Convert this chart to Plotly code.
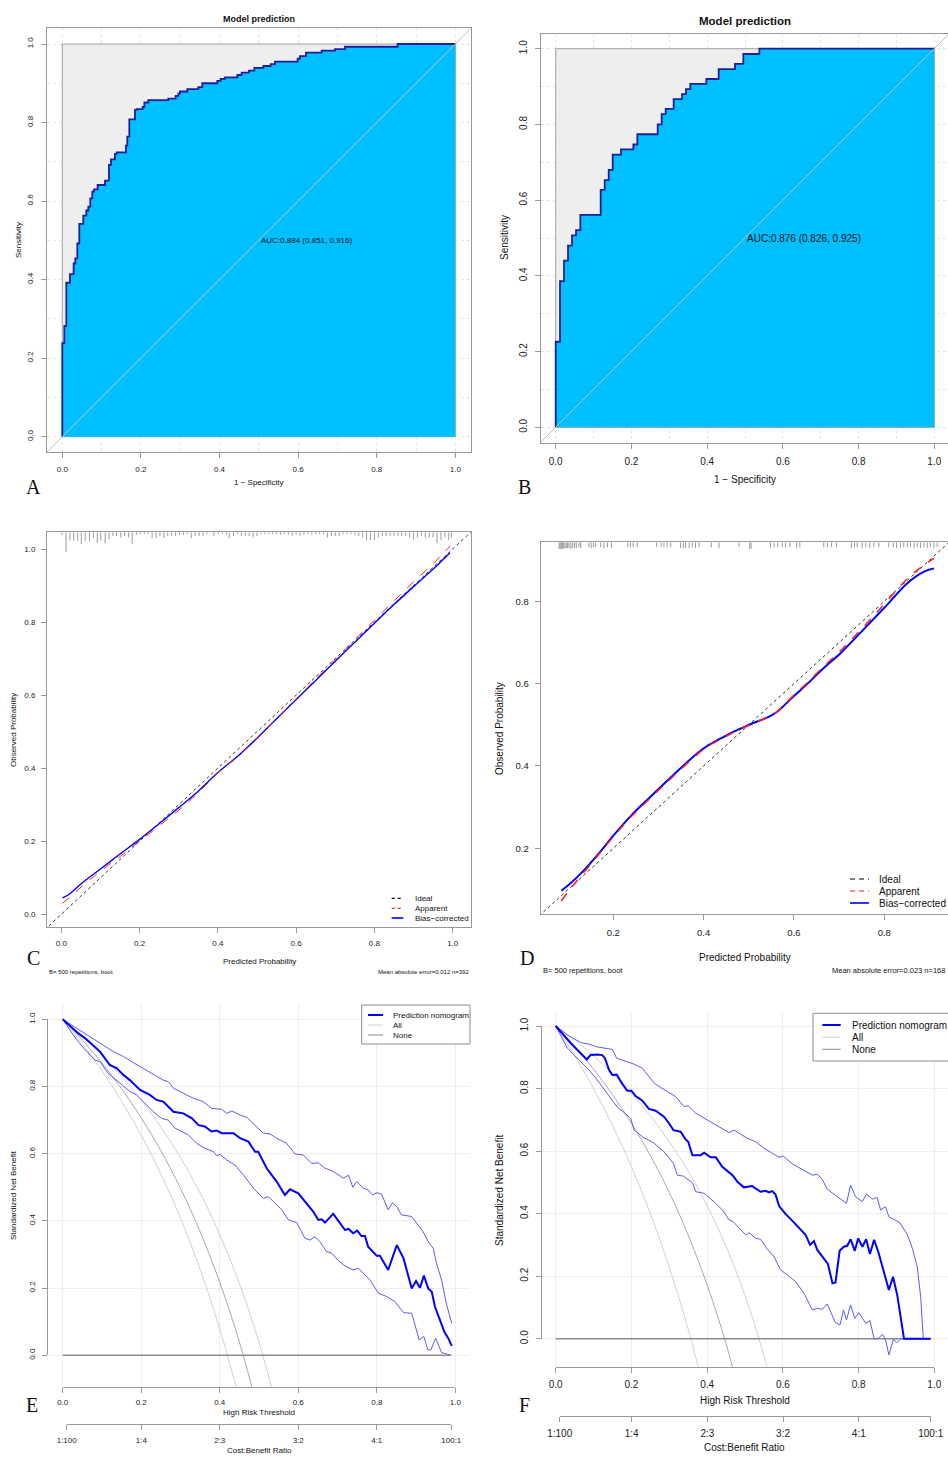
import plotly.graph_objects as go

W, H = 948, 1458
FONT = "Liberation Sans, Arial, Helvetica, sans-serif"
SERIF = "Liberation Serif, Times New Roman, serif"

# ---------------- DATA ----------------
# ROC A (step points: jump happens at fpr[i] up to tpr[i])
roc_a_fpr = [0, 0, 0.0051, 0.0102, 0.0195, 0.0288, 0.0331, 0.0382, 0.0433, 0.0534, 0.0611, 0.0662,
             0.0712, 0.0763, 0.0806, 0.0899, 0.1086, 0.1187, 0.1238, 0.134, 0.1383, 0.162, 0.1654,
             0.1705, 0.1849, 0.1891, 0.2044, 0.2087, 0.2188, 0.2697, 0.2884, 0.2952, 0.2994, 0.3181,
             0.3461, 0.3562, 0.3944, 0.4029, 0.4139, 0.4453, 0.4563, 0.475, 0.4886, 0.5115, 0.5301,
             0.5411, 0.5988, 0.6047, 0.62, 0.6599, 0.6938, 0.7193, 0.8533, 1.0]
roc_a_tpr = [0, 0.238, 0.282, 0.392, 0.414, 0.441, 0.454, 0.492, 0.542, 0.563, 0.576, 0.586, 0.607,
             0.624, 0.630, 0.641, 0.652, 0.692, 0.706, 0.720, 0.724, 0.741, 0.764, 0.808, 0.832,
             0.834, 0.840, 0.851, 0.857, 0.861, 0.868, 0.874, 0.879, 0.885, 0.890, 0.900, 0.906,
             0.911, 0.915, 0.921, 0.927, 0.932, 0.939, 0.944, 0.949, 0.955, 0.963, 0.969, 0.978,
             0.983, 0.987, 0.993, 1.0, 1.0]
auc_a = "AUC:0.884 (0.851, 0.916)"

roc_b_fpr = [0, 0, 0.0114, 0.022, 0.0326, 0.0431, 0.0537, 0.0651, 0.1188, 0.1294, 0.14, 0.1505,
             0.1725, 0.2051, 0.2157, 0.2694, 0.2799, 0.2905, 0.3116, 0.3336, 0.3442, 0.3556,
             0.3979, 0.4305, 0.4736, 0.4956, 0.5379, 1.0]
roc_b_tpr = [0, 0.226, 0.386, 0.440, 0.480, 0.507, 0.521, 0.561, 0.627, 0.653, 0.680, 0.720, 0.734,
             0.747, 0.774, 0.800, 0.827, 0.841, 0.867, 0.880, 0.893, 0.907, 0.920, 0.946, 0.960,
             0.986, 1.0, 1.0]
auc_b = "AUC:0.876 (0.826, 0.925)"

# Calibration C
cal_c_x = [0.003, 0.02, 0.05, 0.1, 0.15, 0.2, 0.25, 0.3, 0.35, 0.4, 0.45, 0.5, 0.55, 0.6, 0.65,
           0.7, 0.75, 0.8, 0.85, 0.9, 0.95, 0.993]
cal_c_bias = [0.045, 0.055, 0.083, 0.124, 0.165, 0.205, 0.248, 0.292, 0.337, 0.388, 0.432, 0.482,
              0.535, 0.588, 0.64, 0.693, 0.745, 0.797, 0.848, 0.897, 0.945, 0.99]
cal_c_app = [0.03, 0.045, 0.074, 0.118, 0.158, 0.2, 0.242, 0.285, 0.333, 0.387, 0.431, 0.481,
             0.535, 0.59, 0.644, 0.698, 0.752, 0.805, 0.858, 0.91, 0.96, 1.008]
rug_c_x = [0.002, 0.012, 0.022, 0.032, 0.042, 0.051, 0.061, 0.072, 0.082, 0.092, 0.101, 0.112, 0.122,
           0.132, 0.141, 0.152, 0.162, 0.172, 0.181, 0.192, 0.202, 0.212, 0.222, 0.232, 0.242, 0.252,
           0.262, 0.272, 0.282, 0.292, 0.302, 0.312, 0.322, 0.332, 0.342, 0.352, 0.362, 0.372, 0.39,
           0.402, 0.412, 0.422, 0.429, 0.44, 0.45, 0.46, 0.47, 0.48, 0.49, 0.5, 0.51, 0.52, 0.53,
           0.54, 0.55, 0.56, 0.57, 0.58, 0.59, 0.6, 0.61, 0.62, 0.63, 0.64, 0.65, 0.66, 0.67, 0.68,
           0.69, 0.7, 0.71, 0.72, 0.73, 0.74, 0.75, 0.76, 0.77, 0.78, 0.79, 0.8, 0.81, 0.82, 0.83,
           0.84, 0.85, 0.86, 0.87, 0.88, 0.89, 0.9, 0.91, 0.92, 0.93, 0.94, 0.95, 0.96, 0.97, 0.98,
           0.99, 0.997]
rug_c_h = [0.007, 0.053, 0.023, 0.023, 0.023, 0.032, 0.023, 0.023, 0.016, 0.030, 0.023, 0.030, 0.019,
           0.010, 0.010, 0.014, 0.010, 0.014, 0.032, 0.007, 0.005, 0.005, 0.005, 0.016, 0.016, 0.010,
           0.016, 0.010, 0.010, 0.010, 0.007, 0.007, 0.005, 0.016, 0.010, 0.010, 0.010, 0.005, 0.010,
           0.005, 0.005, 0.007, 0.016, 0.010, 0.005, 0.010, 0.010, 0.010, 0.014, 0.010, 0.005, 0.005,
           0.005, 0.005, 0.005, 0.007, 0.005, 0.007, 0.010, 0.007, 0.010, 0.007, 0.005, 0.007, 0.005,
           0.005, 0.005, 0.014, 0.010, 0.010, 0.010, 0.005, 0.005, 0.005, 0.007, 0.010, 0.014, 0.021,
           0.021, 0.021, 0.014, 0.010, 0.010, 0.010, 0.010, 0.010, 0.010, 0.010, 0.014, 0.019, 0.014,
           0.010, 0.014, 0.014, 0.014, 0.030, 0.021, 0.014, 0.021, 0.014]
note_c_left = "B= 500 repetitions, boot"
note_c_right = "Mean absolute error=0.012 n=392"

# Calibration D
cal_d_x = [0.085, 0.10, 0.12, 0.142, 0.17, 0.201, 0.24, 0.283, 0.33, 0.386, 0.41, 0.438, 0.46, 0.482,
           0.505, 0.526, 0.545, 0.562, 0.58, 0.6, 0.63, 0.666, 0.703, 0.75, 0.799, 0.851, 0.888, 0.91]
cal_d_bias = [0.097, 0.11, 0.13, 0.155, 0.19, 0.232, 0.28, 0.326, 0.375, 0.431, 0.45, 0.467, 0.48,
              0.491, 0.502, 0.511, 0.52, 0.531, 0.549, 0.570, 0.600, 0.638, 0.674, 0.727, 0.783,
              0.844, 0.872, 0.880]
cal_d_app = [0.072, 0.095, 0.122, 0.151, 0.188, 0.229, 0.277, 0.323, 0.372, 0.428, 0.448, 0.465,
             0.478, 0.49, 0.501, 0.511, 0.52, 0.531, 0.550, 0.572, 0.603, 0.642, 0.68, 0.733, 0.792,
             0.855, 0.888, 0.904]
rug_d_x = [0.080, 0.082, 0.084, 0.086, 0.088, 0.090, 0.093, 0.096, 0.099, 0.102, 0.106, 0.11, 0.114,
           0.118, 0.124, 0.128, 0.146, 0.151, 0.156, 0.161, 0.172, 0.179, 0.187, 0.196, 0.232, 0.238,
           0.244, 0.253, 0.296, 0.306, 0.312, 0.319, 0.327, 0.349, 0.355, 0.36, 0.368, 0.375, 0.382,
           0.39, 0.417, 0.434, 0.478, 0.502, 0.505, 0.548, 0.556, 0.564, 0.574, 0.581, 0.591, 0.606,
           0.613, 0.666, 0.674, 0.683, 0.694, 0.727, 0.734, 0.74, 0.751, 0.759, 0.768, 0.777, 0.788,
           0.81, 0.82, 0.827, 0.836, 0.843, 0.851, 0.858, 0.866, 0.873, 0.88, 0.888, 0.895, 0.902,
           0.91, 0.917]
rug_d_h = [0.016, 0.016, 0.016, 0.016, 0.016, 0.014, 0.016, 0.014, 0.014, 0.014, 0.016, 0.014, 0.014,
           0.014, 0.012, 0.014, 0.012, 0.014, 0.012, 0.012, 0.012, 0.014, 0.012, 0.014, 0.012, 0.012,
           0.012, 0.012, 0.012, 0.012, 0.012, 0.012, 0.012, 0.014, 0.014, 0.014, 0.014, 0.012, 0.014,
           0.012, 0.012, 0.014, 0.012, 0.016, 0.016, 0.014, 0.012, 0.012, 0.012, 0.012, 0.012, 0.014,
           0.012, 0.012, 0.012, 0.012, 0.012, 0.014, 0.012, 0.012, 0.014, 0.012, 0.014, 0.012, 0.012,
           0.012, 0.012, 0.014, 0.012, 0.012, 0.012, 0.012, 0.014, 0.012, 0.014, 0.012, 0.014, 0.012,
           0.014, 0.012]
note_d_left = "B= 500 repetitions, boot"
note_d_right = "Mean absolute error=0.023 n=168"

calib_legend = ["Ideal", "Apparent", "Bias\u2212corrected"]

# DCA E
e_t = [0, 0.04, 0.061, 0.095, 0.12, 0.138, 0.155, 0.171, 0.197, 0.222, 0.239, 0.256, 0.282, 0.307,
       0.329, 0.346, 0.362, 0.379, 0.392, 0.405, 0.435, 0.452, 0.473, 0.49, 0.498, 0.52, 0.545, 0.566,
       0.579, 0.6, 0.621, 0.638, 0.651, 0.66, 0.668, 0.689, 0.702, 0.719, 0.728, 0.74, 0.75, 0.761,
       0.77, 0.778, 0.8, 0.808, 0.829, 0.851, 0.868, 0.889, 0.9, 0.91, 0.92, 0.931, 0.94, 0.948,
       0.961, 0.972, 0.982, 0.991]
e_nb = [1.0, 0.958, 0.940, 0.904, 0.864, 0.854, 0.834, 0.819, 0.790, 0.775, 0.760, 0.755, 0.725, 0.720,
        0.705, 0.685, 0.681, 0.666, 0.669, 0.661, 0.661, 0.646, 0.636, 0.606, 0.606, 0.556, 0.517,
        0.477, 0.494, 0.482, 0.452, 0.428, 0.403, 0.405, 0.395, 0.421, 0.400, 0.373, 0.376, 0.363,
        0.371, 0.355, 0.355, 0.323, 0.296, 0.296, 0.254, 0.328, 0.289, 0.199, 0.221, 0.201, 0.237,
        0.199, 0.189, 0.145, 0.105, 0.070, 0.051, 0.028]
eu_t = [0, 0.061, 0.095, 0.129, 0.155, 0.18, 0.205, 0.231, 0.256, 0.27, 0.282, 0.307, 0.333, 0.358,
        0.379, 0.405, 0.418, 0.431, 0.452, 0.469, 0.494, 0.511, 0.528, 0.545, 0.57, 0.592, 0.613,
        0.634, 0.651, 0.668, 0.689, 0.715, 0.728, 0.739, 0.749, 0.766, 0.778, 0.789, 0.8, 0.812,
        0.829, 0.84, 0.851, 0.863, 0.889, 0.902, 0.918, 0.931, 0.944, 0.952, 0.965, 0.978, 0.991]
eu_nb = [1.0, 0.953, 0.929, 0.904, 0.889, 0.871, 0.854, 0.834, 0.819, 0.814, 0.795, 0.780, 0.765,
         0.755, 0.735, 0.732, 0.720, 0.727, 0.715, 0.708, 0.679, 0.661, 0.659, 0.646, 0.631, 0.599,
         0.596, 0.571, 0.573, 0.557, 0.547, 0.527, 0.536, 0.500, 0.517, 0.497, 0.492, 0.477, 0.484,
         0.480, 0.433, 0.454, 0.442, 0.418, 0.413, 0.393, 0.368, 0.338, 0.318, 0.274, 0.224, 0.150,
         0.095]
el_t = [0, 0.027, 0.053, 0.082, 0.095, 0.116, 0.146, 0.171, 0.188, 0.205, 0.231, 0.252, 0.269, 0.286,
        0.312, 0.32, 0.341, 0.362, 0.384, 0.392, 0.401, 0.418, 0.439, 0.46, 0.486, 0.511, 0.524,
        0.558, 0.575, 0.596, 0.617, 0.63, 0.643, 0.655, 0.672, 0.685, 0.702, 0.719, 0.74, 0.753,
        0.783, 0.804, 0.825, 0.846, 0.868, 0.889, 0.908, 0.92, 0.93, 0.938, 0.95, 0.965, 0.978, 0.988]
el_nb = [1.0, 0.953, 0.914, 0.879, 0.874, 0.839, 0.810, 0.785, 0.775, 0.755, 0.725, 0.705, 0.700,
         0.676, 0.661, 0.656, 0.631, 0.616, 0.606, 0.594, 0.598, 0.581, 0.566, 0.537, 0.497, 0.467,
         0.472, 0.433, 0.403, 0.395, 0.348, 0.343, 0.353, 0.338, 0.309, 0.304, 0.282, 0.266, 0.254,
         0.259, 0.224, 0.185, 0.175, 0.160, 0.127, 0.125, 0.046, 0.056, 0.016, 0.016, 0.051, 0.008,
         0.004, 0.0]
all_t = [0, 0.05, 0.1, 0.15, 0.2, 0.25, 0.3, 0.35, 0.4, 0.45, 0.5, 0.55, 0.6]
e_all_lo = [1.0, 0.927, 0.847, 0.756, 0.655, 0.540, 0.408, 0.256, 0.079, -0.130, None, None, None]
e_all_mid = [1.0, 0.938, 0.870, 0.793, 0.707, 0.609, 0.497, 0.368, 0.217, 0.040, -0.174, None, None]
e_all_hi = [1.0, 0.949, 0.893, 0.830, 0.760, 0.680, 0.588, 0.483, 0.359, 0.214, 0.039, -0.174, None]
none_t = [0, 0.99]
none_nb = [0, 0]

# DCA F
f_t = [0, 0.04, 0.082, 0.092, 0.11, 0.123, 0.13, 0.141, 0.15, 0.161, 0.176, 0.189, 0.2, 0.211, 0.229,
       0.246, 0.264, 0.286, 0.299, 0.311, 0.33, 0.342, 0.35, 0.361, 0.383, 0.392, 0.409, 0.423, 0.44,
       0.467, 0.48, 0.497, 0.519, 0.541, 0.555, 0.563, 0.572, 0.581, 0.59, 0.607, 0.629, 0.66, 0.672,
       0.682, 0.691, 0.719, 0.731, 0.739, 0.75, 0.761, 0.77, 0.779, 0.79, 0.799, 0.81, 0.82, 0.83,
       0.841, 0.852, 0.863, 0.871, 0.88, 0.891, 0.902, 0.92, 0.99]
f_nb = [1.0, 0.945, 0.893, 0.907, 0.909, 0.907, 0.897, 0.859, 0.843, 0.845, 0.815, 0.793, 0.793, 0.776,
        0.761, 0.735, 0.729, 0.710, 0.689, 0.667, 0.662, 0.639, 0.630, 0.587, 0.587, 0.595, 0.580,
        0.580, 0.550, 0.523, 0.502, 0.484, 0.488, 0.470, 0.473, 0.468, 0.472, 0.460, 0.424, 0.399,
        0.372, 0.332, 0.300, 0.312, 0.284, 0.239, 0.177, 0.180, 0.281, 0.294, 0.297, 0.318, 0.281,
        0.321, 0.294, 0.318, 0.271, 0.316, 0.278, 0.230, 0.200, 0.156, 0.198, 0.140, 0.0, 0.0]
fu_t = [0, 0.031, 0.066, 0.088, 0.106, 0.132, 0.15, 0.161, 0.185, 0.207, 0.229, 0.26, 0.286, 0.317,
        0.339, 0.35, 0.37, 0.401, 0.431, 0.458, 0.471, 0.506, 0.528, 0.55, 0.59, 0.601, 0.625, 0.656,
        0.678, 0.691, 0.704, 0.717, 0.748, 0.768, 0.779, 0.792, 0.81, 0.821, 0.836, 0.849, 0.858,
        0.871, 0.88, 0.894, 0.909, 0.929, 0.942, 0.955, 0.964, 0.971, 0.99]
fu_nb = [1.0, 0.971, 0.947, 0.942, 0.934, 0.929, 0.925, 0.897, 0.886, 0.878, 0.865, 0.817, 0.797,
         0.774, 0.742, 0.745, 0.721, 0.699, 0.680, 0.659, 0.667, 0.641, 0.630, 0.609, 0.580, 0.584,
         0.559, 0.539, 0.523, 0.526, 0.510, 0.478, 0.449, 0.433, 0.491, 0.454, 0.438, 0.463, 0.446,
         0.452, 0.412, 0.422, 0.390, 0.380, 0.371, 0.332, 0.289, 0.230, 0.134, 0.0, 0.0]
fl_t = [0, 0.031, 0.062, 0.088, 0.11, 0.132, 0.163, 0.185, 0.198, 0.207, 0.229, 0.26, 0.286, 0.311,
        0.321, 0.337, 0.361, 0.37, 0.392, 0.418, 0.44, 0.458, 0.469, 0.489, 0.502, 0.511, 0.528,
        0.541, 0.559, 0.577, 0.594, 0.612, 0.634, 0.656, 0.678, 0.691, 0.704, 0.717, 0.739, 0.751,
        0.76, 0.768, 0.779, 0.79, 0.801, 0.819, 0.83, 0.841, 0.852, 0.863, 0.871, 0.88, 0.892, 0.901,
        0.911, 0.99]
fl_nb = [1.0, 0.929, 0.891, 0.859, 0.827, 0.790, 0.740, 0.719, 0.705, 0.667, 0.646, 0.625, 0.598,
         0.561, 0.523, 0.520, 0.499, 0.470, 0.465, 0.438, 0.412, 0.380, 0.374, 0.348, 0.332, 0.339,
         0.321, 0.318, 0.286, 0.262, 0.220, 0.204, 0.182, 0.145, 0.092, 0.097, 0.094, 0.111, 0.051,
         0.044, 0.092, 0.060, 0.108, 0.065, 0.083, 0.049, 0.058, 0.0, 0.0, 0.014, -0.002, -0.052,
         -0.002, -0.013, 0.0, 0.0]
f_all_lo = [1.0, 0.905, 0.800, 0.682, 0.550, 0.400, 0.228, 0.030, -0.201, None, None, None, None]
f_all_mid = [1.0, 0.935, 0.862, 0.781, 0.689, 0.586, 0.468, 0.331, 0.172, -0.016, -0.242, None, None]
f_all_hi = [1.0, 0.955, 0.904, 0.848, 0.784, 0.713, 0.630, 0.536, 0.425, 0.295, 0.138, -0.054, -0.293]

dca_legend = ["Prediction nomogram", "All", "None"]
cb_ticks = [0.01, 0.2, 0.4, 0.6, 0.8, 0.99]
cb_labels = ["1:100", "1:4", "2:3", "3:2", "4:1", "100:1"]

# ---------------- HELPERS ----------------
def fx(p):
    return p / W


def fy(p):
    return 1 - p / H


def xr(p0, p1, a, b):
    u = p1 - p0
    return [(a - p0) / u, (b - p0) / u]


def yr(p0, p1, top, bottom):
    u = p1 - p0
    return [(bottom - p0) / u, (top - p0) / u]


GRAY = "#999999"


def box_axis(dom, rng, size, mirror=True, angle=0, dotted_grid=False, standoff=3):
    d = dict(domain=dom, range=rng, showline=True, linecolor=GRAY, linewidth=1, mirror=mirror,
             ticks="outside", ticklen=5, tickcolor=GRAY, tickmode="linear", tick0=0, dtick=0.2,
             tickformat=".1f", tickangle=angle, zeroline=False, automargin=False,
             tickfont=dict(size=size, color="#222", family=FONT), ticklabelstandoff=standoff)
    if dotted_grid:
        d.update(showgrid=True, gridcolor="#E4E4E4", griddash="dot", gridwidth=1,
                 minor=dict(tick0=0, dtick=0.1, showgrid=True, gridcolor="#E4E4E4",
                            griddash="dot", ticks=""))
    else:
        d.update(showgrid=False)
    return d


fig = go.Figure()
layout = dict(width=W, height=H, margin=dict(l=0, r=0, t=0, b=0, autoexpand=False),
              paper_bgcolor="white", plot_bgcolor="rgba(0,0,0,0)", showlegend=False)
shapes = []
ann = []


def txt(x, y, s, size, angle=0, xanchor="center", family=FONT, color="#111"):
    ann.append(dict(x=fx(x), y=fy(y), xref="paper", yref="paper", text=s, showarrow=False,
                    font=dict(size=size, family=family, color=color), textangle=angle,
                    xanchor=xanchor, yanchor="middle"))


# ---------------- ROC panels ----------------
roc_panels = [
    dict(ax="", fpr=roc_a_fpr, tpr=roc_a_tpr, auc=auc_a, x0=62.3, x1=455.3, xd=(46.6, 471.0),
         y0=436.7, y1=44.0, yd=(28.3, 452.4), fs=8, tfs=9, mirror=True,
         title=(259, 18.7), xt=(259, 482), yt=(18, 240), lab=("A", 33, 487)),
    dict(ax="2", fpr=roc_b_fpr, tpr=roc_b_tpr, auc=auc_b, x0=555.7, x1=934.3, xd=(540.6, 948.0),
         y0=427.3, y1=48.7, yd=(33.5, 442.6), fs=10, tfs=11.5, mirror=False,
         title=(744.7, 21), xt=(745, 479.3), yt=(505, 238), lab=("B", 524, 487)),
]
for p in roc_panels:
    xa, ya = "x" + p["ax"], "y" + p["ax"]
    xrng = xr(p["x0"], p["x1"], *p["xd"])
    yrng = yr(p["y0"], p["y1"], *p["yd"])
    layout["xaxis" + p["ax"]] = box_axis([fx(p["xd"][0]), fx(p["xd"][1])], xrng, p["fs"],
                                         mirror=True, dotted_grid=True, standoff=4)
    layout["xaxis" + p["ax"]]["anchor"] = ya
    layout["yaxis" + p["ax"]] = box_axis([fy(p["yd"][1]), fy(p["yd"][0])], yrng, p["fs"],
                                         mirror=p["mirror"], angle=-90, dotted_grid=True, standoff=4)
    layout["yaxis" + p["ax"]]["anchor"] = xa
    shapes.append(dict(type="rect", xref=xa, yref=ya, x0=0, y0=0, x1=1, y1=1,
                       fillcolor="#EEEEEE", line=dict(color="#A0A0A0", width=1), layer="between"))
    fig.add_trace(go.Scatter(x=p["fpr"], y=p["tpr"], mode="lines", line_shape="hv",
                             fill="tozeroy", fillcolor="#00BFFF",
                             line=dict(color="#1E1E9C", width=1.8),
                             xaxis=xa, yaxis=ya, hoverinfo="skip"))
    shapes.append(dict(type="line", xref=xa, yref=ya, x0=-0.1, y0=-0.1, x1=1.1, y1=1.1,
                       line=dict(color="#C0C0C0", width=1), layer="above"))
    ann.append(dict(x=0.5, y=0.5, xref=xa, yref=ya, text=p["auc"], showarrow=False,
                    xanchor="left", yanchor="middle",
                    font=dict(size=p["fs"], family=FONT, color="#111")))
    txt(p["title"][0], p["title"][1], "<b>Model prediction</b>", p["tfs"])
    txt(p["xt"][0], p["xt"][1], "1 \u2212 Specificity", p["fs"])
    txt(p["yt"][0], p["yt"][1], "Sensitivity", p["fs"], angle=-90)
    txt(p["lab"][1], p["lab"][2], p["lab"][0], 20, family=SERIF)

# ---------------- Calibration panels ----------------
cal_panels = [
    dict(ax="3", x=cal_c_x, bias=cal_c_bias, app=cal_c_app, rx=rug_c_x, rh=rug_c_h,
         x0=61.3, x1=452.7, xd=(47.0, 470.7), y0=914.3, y1=549.0, yd=(532.3, 926.7), fs=8,
         mirror=True, bw=1.4, aw=1.0, xt=(259, 961), yt=(13, 730), lab=("C", 33, 957.7),
         notes=(note_c_left, note_c_right, 47.0, 470.7, 971.7, 6),
         leg=(391.7, 403.3, 413.3, [898.3, 908.3, 918.0], 8, "3px,3px"), tfs=8),
    dict(ax="4", x=cal_d_x, bias=cal_d_bias, app=cal_d_app, rx=rug_d_x, rh=rug_d_h,
         x0=522.97, x1=974.64, xd=(540.7, 948.0), y0=930.63, y1=518.96, yd=(542.3, 914.3), fs=9.5,
         mirror=False, bw=2.0, aw=1.5, xt=(744.7, 957.3), yt=(499, 728), lab=("D", 526.7, 957.7),
         notes=(note_d_left, note_d_right, 540.7, 946.5, 970.7, 7.5),
         leg=(850.0, 869.0, 877.3, [879.0, 891.0, 903.0], 10, "5px,4px"), tfs=10),
]
for p in cal_panels:
    xa, ya = "x" + p["ax"], "y" + p["ax"]
    xrng = xr(p["x0"], p["x1"], *p["xd"])
    yrng = yr(p["y0"], p["y1"], *p["yd"])
    xd = box_axis([fx(p["xd"][0]), fx(p["xd"][1])], xrng, p["fs"], mirror=True, standoff=4)
    xd["anchor"] = ya
    yd = box_axis([fy(p["yd"][1]), fy(p["yd"][0])], yrng, p["fs"], mirror=p["mirror"], standoff=4)
    yd["anchor"] = xa
    layout["xaxis" + p["ax"]] = xd
    layout["yaxis" + p["ax"]] = yd
    # ideal line
    shapes.append(dict(type="line", xref=xa, yref=ya, x0=-0.2, y0=-0.2, x1=1.2, y1=1.2,
                       line=dict(color="#333333", width=1, dash="dot"), layer="between"))
    # rug
    top = yrng[1]
    rx, ry = [], []
    for xv, hv in zip(p["rx"], p["rh"]):
        rx += [xv, xv, None]
        ry += [top, top - hv, None]
    fig.add_trace(go.Scatter(x=rx, y=ry, mode="lines", line=dict(color="#999999", width=1),
                             xaxis=xa, yaxis=ya, hoverinfo="skip"))
    fig.add_trace(go.Scatter(x=p["x"], y=p["bias"], mode="lines", line_shape="spline",
                             line=dict(color="#0000FF", width=p["bw"]), xaxis=xa, yaxis=ya,
                             hoverinfo="skip"))
    fig.add_trace(go.Scatter(x=p["x"], y=p["app"], mode="lines", line_shape="spline",
                             line=dict(color="#FF2020", width=p["aw"], dash="dash"),
                             xaxis=xa, yaxis=ya, hoverinfo="skip"))
    txt(p["xt"][0], p["xt"][1], "Predicted Probability", p["tfs"])
    txt(p["yt"][0], p["yt"][1], "Observed Probability", p["tfs"], angle=-90)
    txt(p["lab"][1], p["lab"][2], p["lab"][0], 20, family=SERIF)
    nl, nr, xl, xrr, ny, ns = p["notes"]
    txt(xl, ny, nl, ns, xanchor="left")
    txt(xrr, ny, nr, ns, xanchor="right")
    lx0, lx1, tx, rows, lfs, dpat = p["leg"]
    styles = [("#000000", dpat, 1.2), ("#FF2020", dpat, 1.2), ("#0000FF", "solid", 1.6)]
    for name, row, (c, dsh, w) in zip(calib_legend, rows, styles):
        shapes.append(dict(type="line", xref="paper", yref="paper", x0=fx(lx0), x1=fx(lx1),
                           y0=fy(row), y1=fy(row), line=dict(color=c, width=w, dash=dsh)))
        txt(tx, row, name, lfs, xanchor="left")

# ---------------- DCA panels ----------------
dca_panels = [
    dict(ax="5", tax="7", cax="9", main=(e_t, e_nb), up=(eu_t, eu_nb), lo=(el_t, el_nb),
         alls=(e_all_lo, e_all_mid, e_all_hi),
         x0=62.7, x1=455.3, xd=(47.0, 470.0), y0=1355.3, y1=1019.3, yd=(1003.3, 1386.7),
         fs=8, cbx=(66.7, 451.3), cby=1424.3,
         xt=(259, 1412.3), ct=(259, 1450), yt=(13, 1195), lab=("E", 32, 1405),
         leg=(361.7, 1005, 470.0, 1044, 368.0, 383.0, 390.7, [1015, 1025, 1035], 8)),
    dict(ax="6", tax="8", cax="10", main=(f_t, f_nb), up=(fu_t, fu_nb), lo=(fl_t, fl_nb),
         alls=(f_all_lo, f_all_mid, f_all_hi),
         x0=555.7, x1=934.3, xd=(540.7, 948.0), y0=1338.7, y1=1026.0, yd=(1013.3, 1367.3),
         fs=10, cbx=(559.7, 930.7), cby=1416.0,
         xt=(744.7, 1400), ct=(744.7, 1447.3), yt=(499, 1190), lab=("F", 524, 1405),
         leg=(813.0, 1013.3, 960.0, 1061.0, 822.3, 840.7, 849.7, [1025, 1037.3, 1049.3], 10)),
]
for p in dca_panels:
    xa, ya = "x" + p["ax"], "y" + p["ax"]
    xrng = xr(p["x0"], p["x1"], *p["xd"])
    yrng = yr(p["y0"], p["y1"], *p["yd"])
    grid = dict(showgrid=True, gridcolor="#EDEDED", gridwidth=1, tickmode="linear", tick0=0,
                dtick=0.2, showticklabels=False, ticks="", showline=False, zeroline=False,
                automargin=False)
    layout["xaxis" + p["ax"]] = dict(domain=[fx(p["xd"][0]), fx(p["xd"][1])], range=xrng,
                                     anchor=ya, **grid)
    layout["yaxis" + p["ax"]] = dict(domain=[fy(p["yd"][1]), fy(p["yd"][0])], range=yrng,
                                     anchor=xa, **grid)
    tick = dict(showline=True, linecolor=GRAY, linewidth=1, ticks="outside", ticklen=5,
                tickcolor=GRAY, showgrid=False, zeroline=False, automargin=False,
                tickfont=dict(size=p["fs"], color="#222", family=FONT))
    # threshold axis (0..1) and y axis (0..1) drawn only over their data span
    layout["xaxis" + p["tax"]] = dict(domain=[fx(p["x0"]), fx(p["x1"])], range=[0, 1],
                                      anchor="free", position=fy(p["yd"][1]), tickmode="linear",
                                      tick0=0, dtick=0.2, tickformat=".1f",
                                      ticklabelstandoff=3, **tick)
    layout["yaxis" + p["tax"]] = dict(domain=[fy(p["y0"]), fy(p["y1"])], range=[0, 1],
                                      anchor="free", position=fx(p["xd"][0]), tickmode="linear",
                                      tick0=0, dtick=0.2, tickformat=".1f", tickangle=-90,
                                      ticklabelstandoff=4, **tick)
    layout["xaxis" + p["cax"]] = dict(domain=[fx(p["cbx"][0]), fx(p["cbx"][1])],
                                      range=[cb_ticks[0], cb_ticks[-1]], anchor="free",
                                      position=fy(p["cby"]), tickmode="array", tickvals=cb_ticks,
                                      ticktext=cb_labels, ticklabelstandoff=3, **tick)
    fig.add_trace(go.Scatter(x=[None], y=[None], xaxis="x" + p["tax"], yaxis="y" + p["tax"],
                             hoverinfo="skip"))
    fig.add_trace(go.Scatter(x=[None], y=[None], xaxis="x" + p["cax"], yaxis="y" + p["tax"],
                             hoverinfo="skip"))
    # All curves
    lo, mid, hi = p["alls"]
    for ys, c in [(lo, "#D0D0D0"), (hi, "#D0D0D0"), (mid, "#A8A8A8")]:
        fig.add_trace(go.Scatter(x=all_t, y=ys, mode="lines", line_shape="spline",
                                 line=dict(color=c, width=1), xaxis=xa, yaxis=ya,
                                 hoverinfo="skip", connectgaps=False))
    # None
    fig.add_trace(go.Scatter(x=none_t, y=none_nb, mode="lines",
                             line=dict(color="#8C8C8C", width=1.4), xaxis=xa, yaxis=ya,
                             hoverinfo="skip"))
    # model CI and main
    for (tt, vv) in (p["up"], p["lo"]):
        fig.add_trace(go.Scatter(x=tt, y=vv, mode="lines", line=dict(color="#5A5AFF", width=1),
                                 xaxis=xa, yaxis=ya, hoverinfo="skip"))
    fig.add_trace(go.Scatter(x=p["main"][0], y=p["main"][1], mode="lines",
                             line=dict(color="#0000FF", width=2), xaxis=xa, yaxis=ya,
                             hoverinfo="skip"))
    bx0, by0, bx1, by1, lx0, lx1, tx, rows, lfs = p["leg"]
    shapes.append(dict(type="rect", xref="paper", yref="paper", x0=fx(bx0), x1=fx(bx1),
                       y0=fy(by1), y1=fy(by0), fillcolor="white",
                       line=dict(color="#8C8C8C", width=1)))
    styles = [("#0000FF", 2), ("#D0D0D0", 1), ("#8C8C8C", 1)]
    for name, row, (c, w) in zip(dca_legend, rows, styles):
        shapes.append(dict(type="line", xref="paper", yref="paper", x0=fx(lx0), x1=fx(lx1),
                           y0=fy(row), y1=fy(row), line=dict(color=c, width=w)))
        txt(tx, row, name, lfs, xanchor="left")
    txt(p["xt"][0], p["xt"][1], "High Risk Threshold", p["fs"])
    txt(p["ct"][0], p["ct"][1], "Cost:Benefit Ratio", p["fs"])
    txt(p["yt"][0], p["yt"][1], "Standardized Net Benefit", p["fs"], angle=-90)
    txt(p["lab"][1], p["lab"][2], p["lab"][0], 20, family=SERIF)

layout["shapes"] = shapes
layout["annotations"] = ann
layout["font"] = dict(family=FONT, color="#111")
fig.update_layout(**layout)
fig.write_html("out.html",
               config={"displayModeBar": False, "staticPlot": True},
               post_script="document.body.style.margin='0px';"
                           "document.body.style.padding='0px';"
                           "document.body.style.overflow='hidden';")
